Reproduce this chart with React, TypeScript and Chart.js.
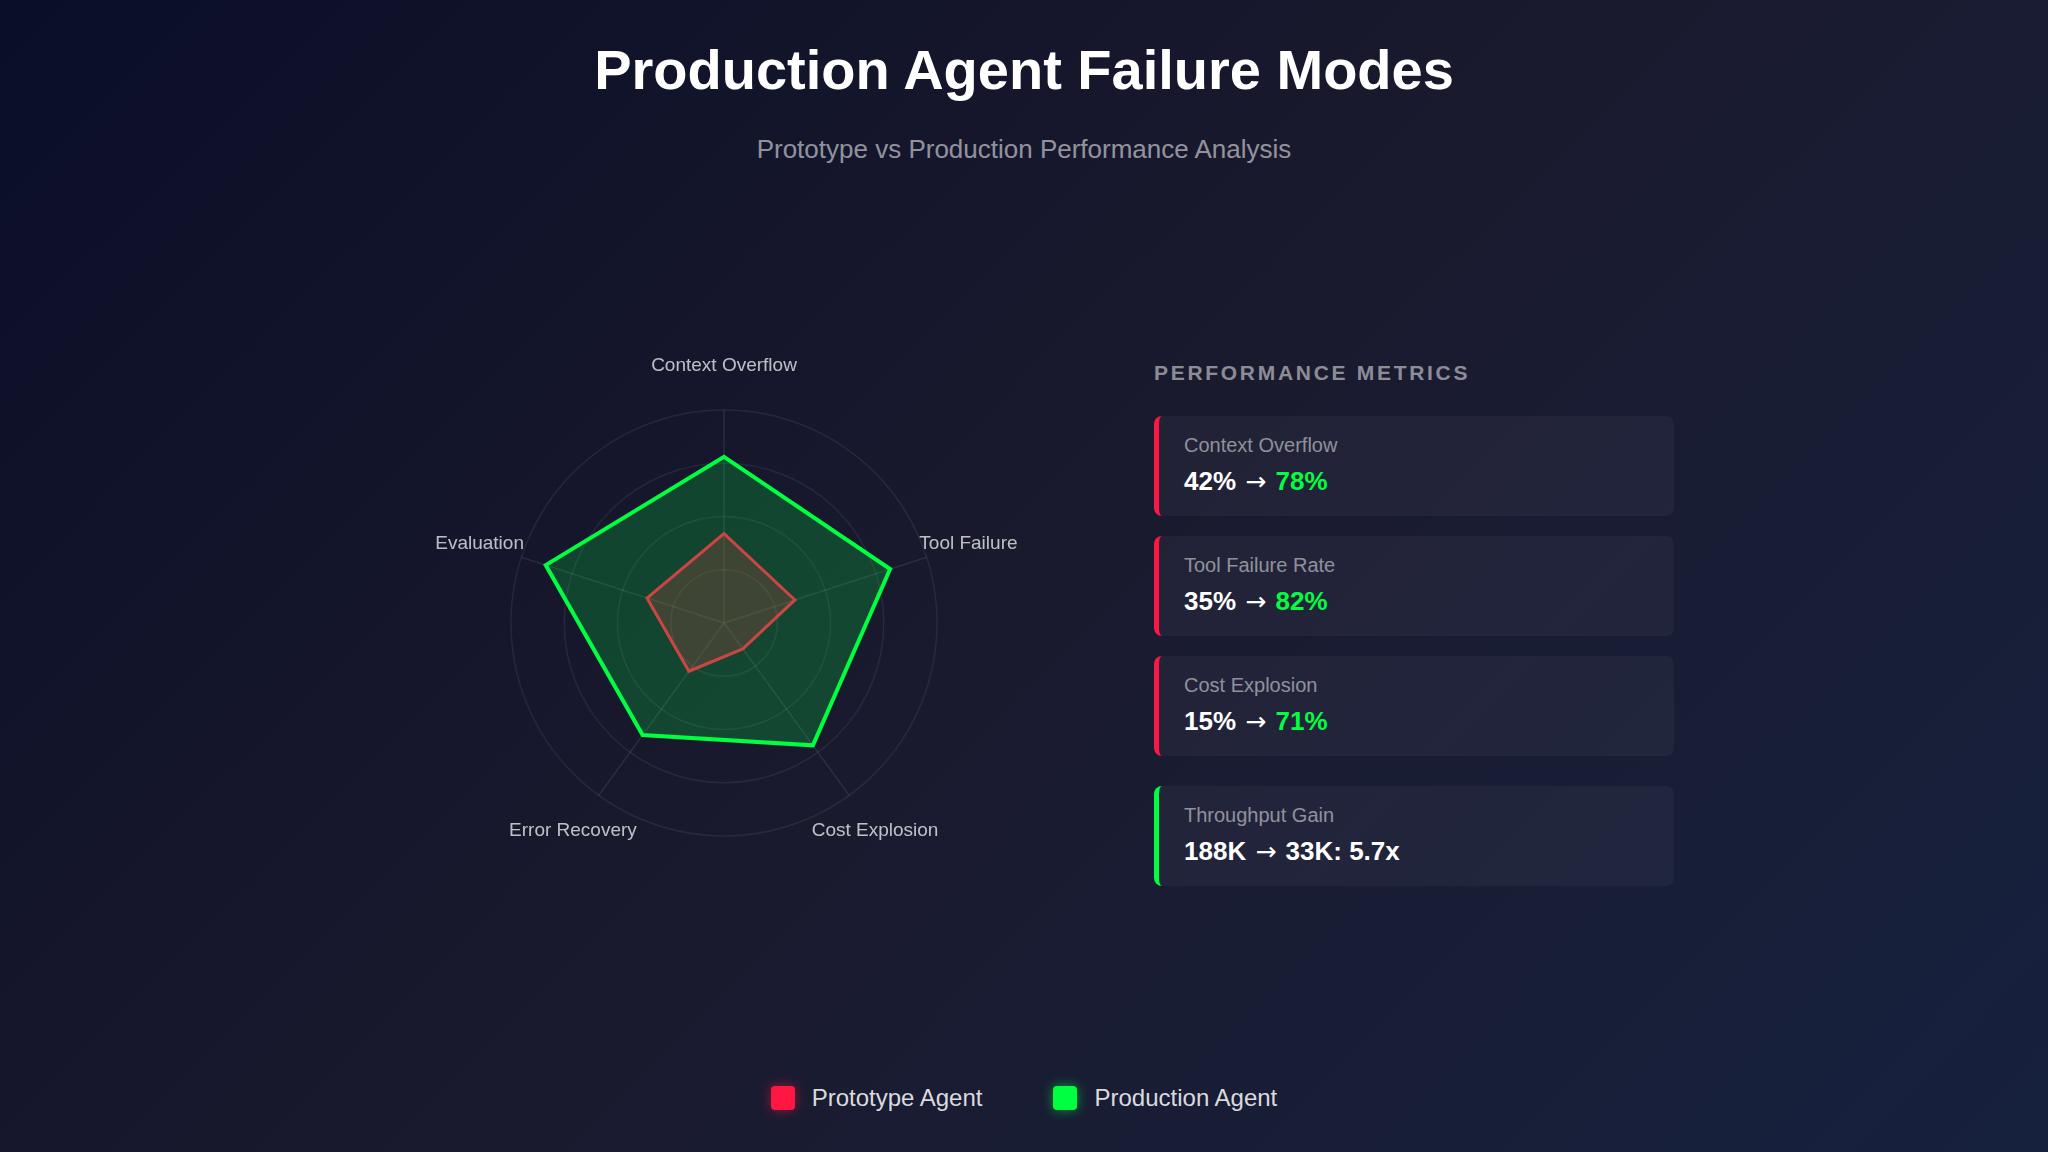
import React, { useEffect, useRef } from "react";
import { Chart, registerables } from "chart.js";

Chart.register(...registerables);

const categories = ["Context Overflow", "Tool Failure", "Cost Explosion", "Error Recovery", "Evaluation"];
const prototypeValues = [42, 35, 15, 28, 38];
const productionValues = [78, 82, 71, 65, 88];
const seriesNames = ["Prototype Agent", "Production Agent"];
const tickStep = 25;
const axisMax = 100;

const metricLabels = ["Context Overflow", "Tool Failure Rate", "Cost Explosion"];
const metricBefore = ["42%", "35%", "15%"];
const metricAfter = ["78%", "82%", "71%"];
const throughputLabel = "Throughput Gain";
const throughputBefore = "188K";
const throughputAfter = "33K: 5.7x";

const RED = "#ff1744";
const GREEN = "#00ff41";
const FONT = '"Liberation Sans", Arial, Helvetica, sans-serif';

const pointLabelPlugin = {
  id: "centeredPointLabels",
  afterDraw(chart: any) {
    const scale = chart.scales.r;
    const ctx = chart.ctx;
    ctx.save();
    ctx.font = `19px ${FONT}`;
    ctx.fillStyle = "rgba(255,255,255,0.72)";
    ctx.textAlign = "center";
    ctx.textBaseline = "middle";
    categories.forEach((label, i) => {
      const p = scale.getPointPosition(i, scale.drawingArea + 44);
      ctx.fillText(label, p.x, p.y);
    });
    ctx.restore();
  },
};

function RadarChart() {
  const ref = useRef<HTMLCanvasElement | null>(null);
  useEffect(() => {
    if (!ref.current) return;
    const chart = new Chart(ref.current, {
      type: "radar",
      data: {
        labels: categories,
        datasets: [
          {
            label: seriesNames[0],
            data: prototypeValues,
            borderColor: RED,
            backgroundColor: "rgba(255,23,68,0.24)",
            borderWidth: 3,
            pointRadius: 0,
            order: 1,
          },
          {
            label: seriesNames[1],
            data: productionValues,
            borderColor: GREEN,
            backgroundColor: "rgba(0,255,65,0.2)",
            borderWidth: 4,
            pointRadius: 0,
            order: 0,
          },
        ],
      },
      options: {
        responsive: true,
        maintainAspectRatio: false,
        animation: false,
        layout: { padding: 137 },
        plugins: { legend: { display: false }, tooltip: { enabled: false } },
        elements: { line: { tension: 0 } },
        scales: {
          r: {
            min: 0,
            max: axisMax,
            ticks: { display: false, stepSize: tickStep },
            grid: { circular: true, color: "rgba(255,255,255,0.07)", lineWidth: 1.5 },
            angleLines: { color: "rgba(255,255,255,0.09)", lineWidth: 1.5 },
            pointLabels: { display: false },
          },
        },
      },
      plugins: [pointLabelPlugin],
    });
    return () => chart.destroy();
  }, []);
  return (
    <div style={{ position: "absolute", left: 374, top: 273, width: 700, height: 700 }}>
      <canvas ref={ref} />
    </div>
  );
}

function Arrow() {
  return (
    <>
      {" "}
      <span
        style={{
          fontFamily: '"DejaVu Sans", sans-serif',
          fontWeight: 400,
          fontSize: 25,
          margin: "0 2px",
        }}
      >
        →
      </span>{" "}
    </>
  );
}

function Card({ top, color, label, children }: any) {
  return (
    <div
      style={{
        position: "absolute",
        left: 1154,
        top,
        width: 520,
        height: 100,
        boxSizing: "border-box",
        background: "rgba(255,255,255,0.04)",
        borderLeft: `5px solid ${color}`,
        borderRadius: 8,
      }}
    >
      <div
        style={{
          position: "absolute",
          left: 25,
          top: 19,
          fontSize: 20,
          lineHeight: 1,
          color: "rgba(255,255,255,0.5)",
          whiteSpace: "nowrap",
        }}
      >
        {label}
      </div>
      <div
        style={{
          position: "absolute",
          left: 25,
          top: 52,
          fontSize: 26,
          lineHeight: 1,
          fontWeight: 700,
          color: "#ffffff",
          whiteSpace: "nowrap",
        }}
      >
        {children}
      </div>
    </div>
  );
}

export default function App() {
  return (
    <div
      style={{
        position: "fixed",
        left: 0,
        top: 0,
        width: 2048,
        height: 1152,
        overflow: "hidden",
        background: "linear-gradient(135deg, #0a0e27 0%, #1a1a2e 50%, #16213e 100%)",
        fontFamily: FONT,
      }}
    >
      <div
        style={{
          position: "absolute",
          left: 0,
          width: 2048,
          top: 42,
          textAlign: "center",
          fontSize: 56,
          lineHeight: 1,
          fontWeight: 700,
          color: "#ffffff",
        }}
      >
        Production Agent Failure Modes
      </div>
      <div
        style={{
          position: "absolute",
          left: 0,
          width: 2048,
          top: 136,
          textAlign: "center",
          fontSize: 26,
          lineHeight: 1,
          color: "rgba(255,255,255,0.55)",
        }}
      >
        Prototype vs Production Performance Analysis
      </div>

      <RadarChart />

      <div
        style={{
          position: "absolute",
          left: 1154,
          top: 362,
          fontSize: 21,
          lineHeight: 1,
          fontWeight: 700,
          letterSpacing: 2.7,
          color: "rgba(255,255,255,0.5)",
          whiteSpace: "nowrap",
        }}
      >
        PERFORMANCE METRICS
      </div>

      {metricLabels.map((label, i) => (
        <Card key={label} top={416 + i * 120} color={RED} label={label}>
          {metricBefore[i]}
          <Arrow />
          <span style={{ color: GREEN }}>{metricAfter[i]}</span>
        </Card>
      ))}
      <Card top={786} color={GREEN} label={throughputLabel}>
        {throughputBefore}
        <Arrow />
        {throughputAfter}
      </Card>

      <div
        style={{
          position: "absolute",
          left: 0,
          width: 2048,
          top: 1086,
          height: 24,
          display: "flex",
          justifyContent: "center",
          alignItems: "center",
          gap: 71,
        }}
      >
        {[RED, GREEN].map((c, i) => (
          <div key={c} style={{ display: "flex", alignItems: "center", gap: 17 }}>
            <div
              style={{
                width: 24,
                height: 24,
                borderRadius: 4,
                background: c,
                boxShadow: `0 0 12px ${c}88`,
              }}
            />
            <span style={{ fontSize: 24, lineHeight: 1, color: "rgba(255,255,255,0.85)" }}>{seriesNames[i]}</span>
          </div>
        ))}
      </div>
    </div>
  );
}
